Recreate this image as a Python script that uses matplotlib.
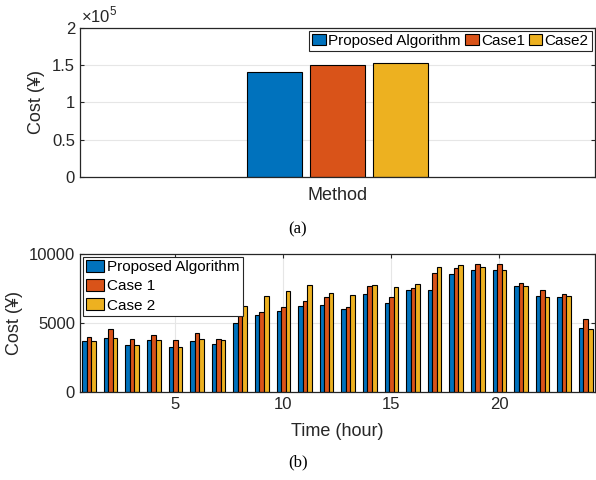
import numpy as np
import matplotlib
matplotlib.use('Agg')
import matplotlib.pyplot as plt
from matplotlib.ticker import FuncFormatter

plt.rcParams['font.family'] = ['Liberation Sans', 'DejaVu Sans']
plt.rcParams['mathtext.fontset'] = 'custom'
plt.rcParams['mathtext.rm'] = 'Liberation Sans'

# (a) total cost per method
methods = ['Proposed Algorithm', 'Case1', 'Case2']
total_cost = [140500, 150700, 153400]

# (b) hourly cost
hours = np.arange(1, 25)
proposed = [3695, 3912, 3405, 3767, 3284, 3719, 3478, 5023, 5579, 5917, 6255, 6351,
            6062, 7124, 6472, 7390, 7390, 8573, 8887, 8887, 7680, 6955, 6907, 4637]
case1 = [3961, 4564, 3888, 4178, 3767, 4299, 3888, 5555, 5820, 6158, 6593, 6931,
         6207, 7704, 6931, 7535, 8646, 8984, 9274, 9274, 7945, 7438, 7148, 5289]
case2 = [3695, 3912, 3405, 3767, 3284, 3840, 3767, 6255, 6955, 7366, 7776, 7221,
         7052, 7776, 7607, 7873, 9080, 9250, 9080, 8863, 7680, 6883, 7004, 4564]
series_names = ['Proposed Algorithm', 'Case 1', 'Case 2']

colors = ['#0072BD', '#D95319', '#EDB120']
axcol = '#262626'

fig = plt.figure(figsize=(5.96, 4.8), dpi=100)

def style_axes(ax):
    for s in ax.spines.values():
        s.set_color(axcol)
        s.set_linewidth(0.9)
    ax.tick_params(direction='in', colors=axcol, labelsize=12, length=3,
                   top=True, right=True)
    ax.set_axisbelow(True)

# ---- top panel
ax1 = fig.add_axes([0.134, 0.631, 0.864, 0.311])
offs = [-0.1225, 0, 0.1225]
for i in range(3):
    ax1.bar(1 + offs[i], total_cost[i], width=0.107, color=colors[i],
            edgecolor='black', linewidth=0.8, label=methods[i])
ax1.set_xlim(0.5, 1.5)
ax1.set_ylim(0, 2e5)
ax1.set_yticks([0, 0.5e5, 1e5, 1.5e5, 2e5])
ax1.yaxis.set_major_formatter(FuncFormatter(lambda v, p: '%g' % (v / 1e5)))
ax1.set_xticks([])
ax1.grid(axis='y', color='#e6e6e6', linewidth=0.8)
style_axes(ax1)
ax1.set_xlabel('Method', fontsize=13, color=axcol, labelpad=7)
ax1.set_ylabel('Cost (¥)', fontsize=13, color=axcol, labelpad=5)
ax1.text(0.003, 1.015, r'$\times10^5$', transform=ax1.transAxes, fontsize=12,
         color=axcol, ha='left', va='bottom')
leg1 = ax1.legend(loc='upper right', ncol=3, fontsize=11, frameon=True, fancybox=False,
                  handlelength=0.9, handleheight=0.7, handletextpad=0.15,
                  columnspacing=0.25, borderpad=0.2, borderaxespad=0.2)
leg1.get_frame().set_edgecolor(axcol)
leg1.get_frame().set_linewidth(0.8)
leg1.get_frame().set_alpha(1)

fig.text(0.5, 0.522, '(a)', family='Liberation Serif', fontsize=12, ha='center', va='center')

# ---- bottom panel
ax2 = fig.add_axes([0.134, 0.183, 0.864, 0.2875])
w = 0.21
for i, vals in enumerate([proposed, case1, case2]):
    ax2.bar(hours + (i - 1) * w, vals, width=w, color=colors[i],
            edgecolor='black', linewidth=0.8, label=series_names[i])
ax2.set_xlim(0.58, 24.42)
ax2.set_ylim(0, 10000)
ax2.set_xticks([5, 10, 15, 20])
ax2.set_yticks([0, 5000, 10000])
ax2.grid(True, color='#e6e6e6', linewidth=0.8)
style_axes(ax2)
ax2.set_xlabel('Time (hour)', fontsize=13, color=axcol, labelpad=8)
ax2.set_ylabel('Cost (¥)', fontsize=13, color=axcol, labelpad=4)
leg2 = ax2.legend(loc='upper left', fontsize=11, frameon=True, fancybox=False,
                  handlelength=1.2, handleheight=0.8, handletextpad=0.2,
                  labelspacing=0.32, borderpad=0.2, borderaxespad=0.2)
leg2.get_frame().set_edgecolor(axcol)
leg2.get_frame().set_linewidth(0.8)
leg2.get_frame().set_alpha(1)

fig.text(0.5, 0.037, '(b)', family='Liberation Serif', fontsize=12, ha='center', va='center')

fig.savefig('out.png', dpi=100)
